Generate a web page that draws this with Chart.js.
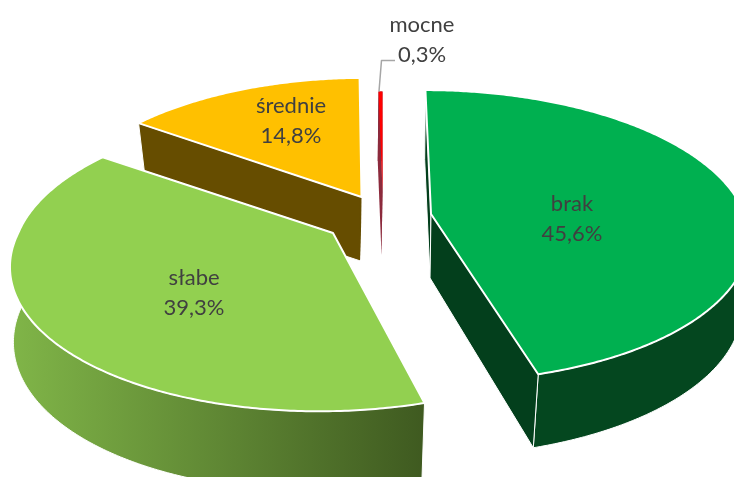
<!DOCTYPE html>
<html><head><meta charset="utf-8">
<style>html,body{margin:0;padding:0;background:#fff;overflow:hidden}canvas{display:block}</style>
<script src="https://cdn.jsdelivr.net/npm/chart.js@4"></script>
</head><body><canvas id="c" width="734" height="477"></canvas>
<script>
const categories = ['brak','słabe','średnie','mocne'];
const shares = [45.6,39.3,14.8,0.3];
const valueLabels = ['45,6%','39,3%','14,8%','0,3%'];
const topColors = ['#00B050','#92D050','#FFC000','#FF0000'];
const wallColors = ['#033F1C','#5F8A35','#664D00','#8C2A3C'];

// pseudo-3D look: per-slice explosion and perspective, relative to the chart centre
const look = [
  {dx:64, dy:-24.5, rx:1.32, ry:.60, k:.15, rb:.975, rl:1,    shF:.045, shB:.045, shL:0,    hideStart:false},
  {dx:-34,dy:-5.5,  rx:1.325,ry:.608,k:.19, rb:.97,  rl:1.02, shF:-.08, shB:0,    shL:-.1,  hideStart:true},
  {dx:-5.5,dy:-41.5,rx:1.28, ry:.587,k:.17, rb:.985, rl:.985, shF:0,    shB:-.025,shL:0,    hideStart:false},
  {dx:15.5,dy:-47.5,rx:1.05, ry:.49, k:.17, rb:.975, rl:.985, shF:0,    shB:0,    shL:0,    hideStart:false}
];
const labelSpots = [
  {dx:205,dy:-20},{dx:-173,dy:54},{dx:-76,dy:-118},{dx:55,dy:-199}
];

const pie3d = {
  id:'pie3d',
  beforeDatasetDraw(){ return false; },
  afterDatasetsDraw(chart){
    const ctx = chart.ctx, arcs = chart.getDatasetMeta(0).data;
    const cx = arcs[0].x, cy = arcs[0].y, R = arcs[0].outerRadius;
    const pt = (g,bottom,a)=>{
      const u=Math.cos(a), v=Math.sin(a);
      const k = bottom ? g.k+.05 : g.k;
      const s = 1/(1-k*v);
      const rx = g.rx*R*(bottom?g.rb:1), ry = g.ry*R*(bottom?g.rl:1);
      const Y = ry*v*s;
      const sh = Y>0 ? (bottom?g.shL:g.shF) : g.shB;
      return [cx+g.dx+(bottom?-1:0)+rx*u*s+sh*Y, cy+g.dy+(bottom?64:0)+Y];
    };
    const arcPts = (g,b,a0,a1)=>{
      const n=Math.max(2,Math.ceil(Math.abs(a1-a0)/0.01)), p=[];
      for(let i=0;i<=n;i++) p.push(pt(g,b,a0+(a1-a0)*i/n));
      return p;
    };
    const poly = (p,fill,line)=>{
      ctx.beginPath(); p.forEach((q,i)=>i?ctx.lineTo(q[0],q[1]):ctx.moveTo(q[0],q[1])); ctx.closePath();
      ctx.fillStyle=fill; ctx.fill();
      if(line){ctx.strokeStyle='#fff';ctx.lineWidth=line;ctx.lineJoin='round';ctx.stroke();}
    };
    const centre = (g,b)=>[cx+g.dx+(b?-1:0), cy+g.dy+(b?64:0)];
    [3,2,0,1].forEach(i=>{
      const g=look[i], a0=arcs[i].startAngle, a1=arcs[i].endAngle;
      const T=centre(g,false), B=centre(g,true);
      const p0=pt(g,false,a0), q0=pt(g,true,a0), p1=pt(g,false,a1), q1=pt(g,true,a1);
      let outer = wallColors[i];
      if(i===1){
        const gr=ctx.createLinearGradient(12,0,424,0);
        gr.addColorStop(0,'#80B548'); gr.addColorStop(1,'#3F5A20'); outer=gr;
      }
      if(i===0) outer='#04471F';
      const ln = i===3?0:1;
      poly(arcPts(g,false,a0,a1).concat(arcPts(g,true,a0,a1).reverse()),outer,ln);
      if(!g.hideStart) poly([T,p0,q0,B],wallColors[i],ln);
      poly([T,p1,q1,B],wallColors[i],i===2?0:ln);
      poly([T].concat(arcPts(g,false,a0,a1)),topColors[i],i===3?0:2);
    });
    // leader line of the smallest slice
    const g=look[3], top=pt(g,false,arcs[3].startAngle), L=labelSpots[3];
    ctx.beginPath(); ctx.moveTo(cx+L.dx-27,cy+L.dy+21); ctx.lineTo(top[0]+3,cy+L.dy+21); ctx.lineTo(top[0]+.5,top[1]);
    ctx.strokeStyle='#A6A6A6'; ctx.lineWidth=1.5; ctx.stroke();
    // labels
    ctx.font='22px Lato'; ctx.fillStyle='#404040'; ctx.textAlign='center'; ctx.textBaseline='middle';
    categories.forEach((c,i)=>{
      const s=labelSpots[i];
      ctx.fillText(c,cx+s.dx,cy+s.dy-14.5);
      ctx.fillText(valueLabels[i],cx+s.dx,cy+s.dy+15);
    });
  }
};

new Chart(document.getElementById('c'),{
  type:'pie',
  data:{labels:categories,datasets:[{data:shares,backgroundColor:topColors}]},
  options:{responsive:false,animation:false,layout:{padding:0},
    plugins:{legend:{display:false},tooltip:{enabled:false}}},
  plugins:[pie3d]
});
</script></body></html>
